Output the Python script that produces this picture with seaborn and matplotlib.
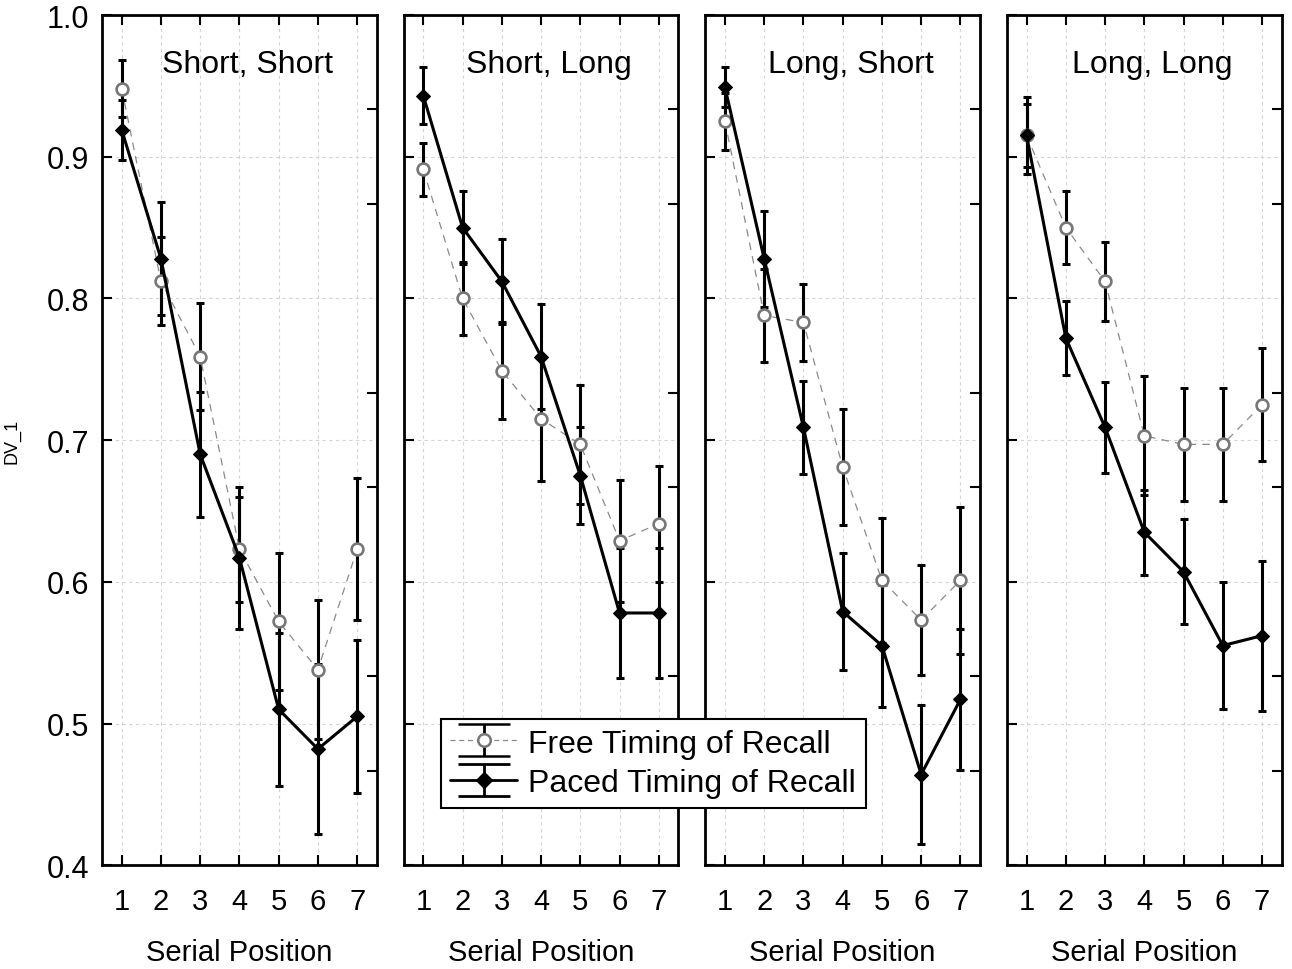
import numpy as np
import pandas as pd
import matplotlib
matplotlib.use("Agg")
import matplotlib.pyplot as plt
import seaborn as sns
from matplotlib.ticker import FixedLocator

# ---------------- data ----------------
positions = [1, 2, 3, 4, 5, 6, 7]
panel_titles = ["Short, Short", "Short, Long", "Long, Short", "Long, Long"]
series_labels = ["Free Timing of Recall", "Paced Timing of Recall"]

free_ss = [0.948, 0.812, 0.759, 0.623, 0.572, 0.538, 0.623]
free_ss_err = [0.020, 0.031, 0.038, 0.037, 0.048, 0.049, 0.050]
paced_ss = [0.919, 0.828, 0.690, 0.617, 0.510, 0.482, 0.505]
paced_ss_err = [0.021, 0.040, 0.044, 0.050, 0.054, 0.060, 0.054]

free_sl = [0.891, 0.800, 0.749, 0.715, 0.697, 0.629, 0.641]
free_sl_err = [0.019, 0.026, 0.034, 0.044, 0.042, 0.043, 0.041]
paced_sl = [0.943, 0.850, 0.812, 0.759, 0.675, 0.578, 0.578]
paced_sl_err = [0.020, 0.026, 0.030, 0.037, 0.034, 0.046, 0.046]

free_ls = [0.925, 0.788, 0.783, 0.681, 0.601, 0.573, 0.601]
free_ls_err = [0.020, 0.033, 0.027, 0.041, 0.044, 0.039, 0.052]
paced_ls = [0.949, 0.828, 0.709, 0.579, 0.555, 0.464, 0.517]
paced_ls_err = [0.014, 0.034, 0.033, 0.041, 0.043, 0.049, 0.050]

free_ll = [0.915, 0.850, 0.812, 0.703, 0.697, 0.697, 0.725]
free_ll_err = [0.022, 0.026, 0.028, 0.042, 0.040, 0.040, 0.040]
paced_ll = [0.915, 0.772, 0.709, 0.635, 0.607, 0.555, 0.562]
paced_ll_err = [0.027, 0.026, 0.032, 0.030, 0.037, 0.045, 0.053]

free_means = [free_ss, free_sl, free_ls, free_ll]
free_errs = [free_ss_err, free_sl_err, free_ls_err, free_ll_err]
paced_means = [paced_ss, paced_sl, paced_ls, paced_ll]
paced_errs = [paced_ss_err, paced_sl_err, paced_ls_err, paced_ll_err]

y_ticks = [0.4, 0.5, 0.6, 0.7, 0.8, 0.9, 1.0]

rows = []
for p, title in enumerate(panel_titles):
    for i, pos in enumerate(positions):
        rows.append(dict(panel=title, pos=pos, timing=series_labels[0],
                         mean=free_means[p][i], err=free_errs[p][i]))
        rows.append(dict(panel=title, pos=pos, timing=series_labels[1],
                         mean=paced_means[p][i], err=paced_errs[p][i]))
df = pd.DataFrame(rows)

# ---------------- style ----------------
sns.set_theme(style="white")
plt.rcParams["font.family"] = ["Liberation Sans", "DejaVu Sans"]
plt.rcParams["axes.edgecolor"] = "black"
plt.rcParams["axes.linewidth"] = 2.0
plt.rcParams["text.color"] = "black"
plt.rcParams["axes.labelcolor"] = "black"
plt.rcParams["xtick.color"] = "black"
plt.rcParams["ytick.color"] = "black"

fig, axes = plt.subplots(1, 4, figsize=(12.92, 9.70), dpi=100, sharey=True)
fig.subplots_adjust(left=0.079, right=0.992, top=0.9835, bottom=0.107, wspace=0.098)

free_color = "#8a8a8a"
ebar_kw = dict(fmt="none", ecolor="black", elinewidth=2.2, capsize=3, capthick=2.2)

for p, ax in enumerate(axes):
    sub = df[df.panel == panel_titles[p]]
    fr = sub[sub.timing == series_labels[0]]
    pa = sub[sub.timing == series_labels[1]]

    ax.errorbar(fr["pos"], fr["mean"], yerr=fr["err"], zorder=2, **ebar_kw)
    ax.errorbar(pa["pos"], pa["mean"], yerr=pa["err"], zorder=2, **ebar_kw)

    sns.lineplot(data=fr, x="pos", y="mean", ax=ax, color=free_color,
                 linewidth=0.9, linestyle=(0, (6, 5)), marker="o", markersize=8.5,
                 markerfacecolor="white", markeredgecolor="#777777",
                 markeredgewidth=1.9, zorder=4, legend=False)
    sns.lineplot(data=pa, x="pos", y="mean", ax=ax, color="black",
                 linewidth=2.2, marker="D", markersize=7.5,
                 markerfacecolor="black", markeredgecolor="black",
                 zorder=5, legend=False)

    ax.set_xlim(0.5, 7.5)
    ax.set_ylim(0.4, 1.0)
    ax.set_xticks(positions)
    ax.set_xticklabels([str(v) for v in positions])
    ax.yaxis.set_major_locator(FixedLocator(y_ticks))
    ax.yaxis.set_minor_locator(FixedLocator(list(np.linspace(0.4, 1.0, 10))))
    ax.tick_params(axis="x", which="major", direction="in", top=True, bottom=True,
                   length=7, width=1.5, labelsize=21, pad=16)
    ax.tick_params(axis="y", which="major", direction="in", left=True, right=False,
                   length=7, width=1.5, labelsize=22, pad=9)
    ax.tick_params(axis="y", which="minor", direction="in", left=False, right=True,
                   length=7, width=1.5)
    ax.grid(True, which="major", color="#d4d4d4", linestyle=(0, (3, 3)), linewidth=0.8)
    ax.set_axisbelow(True)
    ax.set_xlabel("Serial Position", fontsize=21, labelpad=16)
    if p == 0:
        ax.set_ylabel("DV_1", fontsize=13, labelpad=19)
        ax.set_yticklabels(["0.4", "0.5", "0.6", "0.7", "0.8", "0.9", "1.0"])
    else:
        ax.set_ylabel("")
        ax.tick_params(axis="y", labelleft=False)
    ax.text(0.53, 0.96, panel_titles[p], transform=ax.transAxes, ha="center",
            va="top", fontsize=23)
    for s in ax.spines.values():
        s.set_color("black")
        s.set_linewidth(2.0)

# legend proxies (NaN data, only for the legend)
h_free = axes[0].errorbar([np.nan], [np.nan], yerr=[np.nan], fmt="o",
                          color=free_color, linestyle=(0, (4, 3)), linewidth=0.9,
                          markerfacecolor="white", markeredgecolor="#777777",
                          markeredgewidth=1.8, markersize=9, ecolor="black",
                          elinewidth=2.0, capsize=19, capthick=2.0,
                          label=series_labels[0])
h_paced = axes[0].errorbar([np.nan], [np.nan], yerr=[np.nan], fmt="D",
                           color="black", linestyle="-", linewidth=2.0,
                           markerfacecolor="black", markeredgecolor="black",
                           markersize=8, ecolor="black", elinewidth=2.0,
                           capsize=19, capthick=2.0, label=series_labels[1])
leg = fig.legend(handles=[h_free, h_paced], labels=series_labels,
                 loc="center", bbox_to_anchor=(0.340, 0.166, 0.331, 0.092),
                 fontsize=23, handlelength=2.1, handletextpad=0.35,
                 borderpad=0.3, labelspacing=0.3, frameon=True, fancybox=False,
                 framealpha=1.0, edgecolor="black")
leg.get_frame().set_linewidth(1.5)
leg.set_zorder(10)

fig.savefig("out.png", dpi=100)
